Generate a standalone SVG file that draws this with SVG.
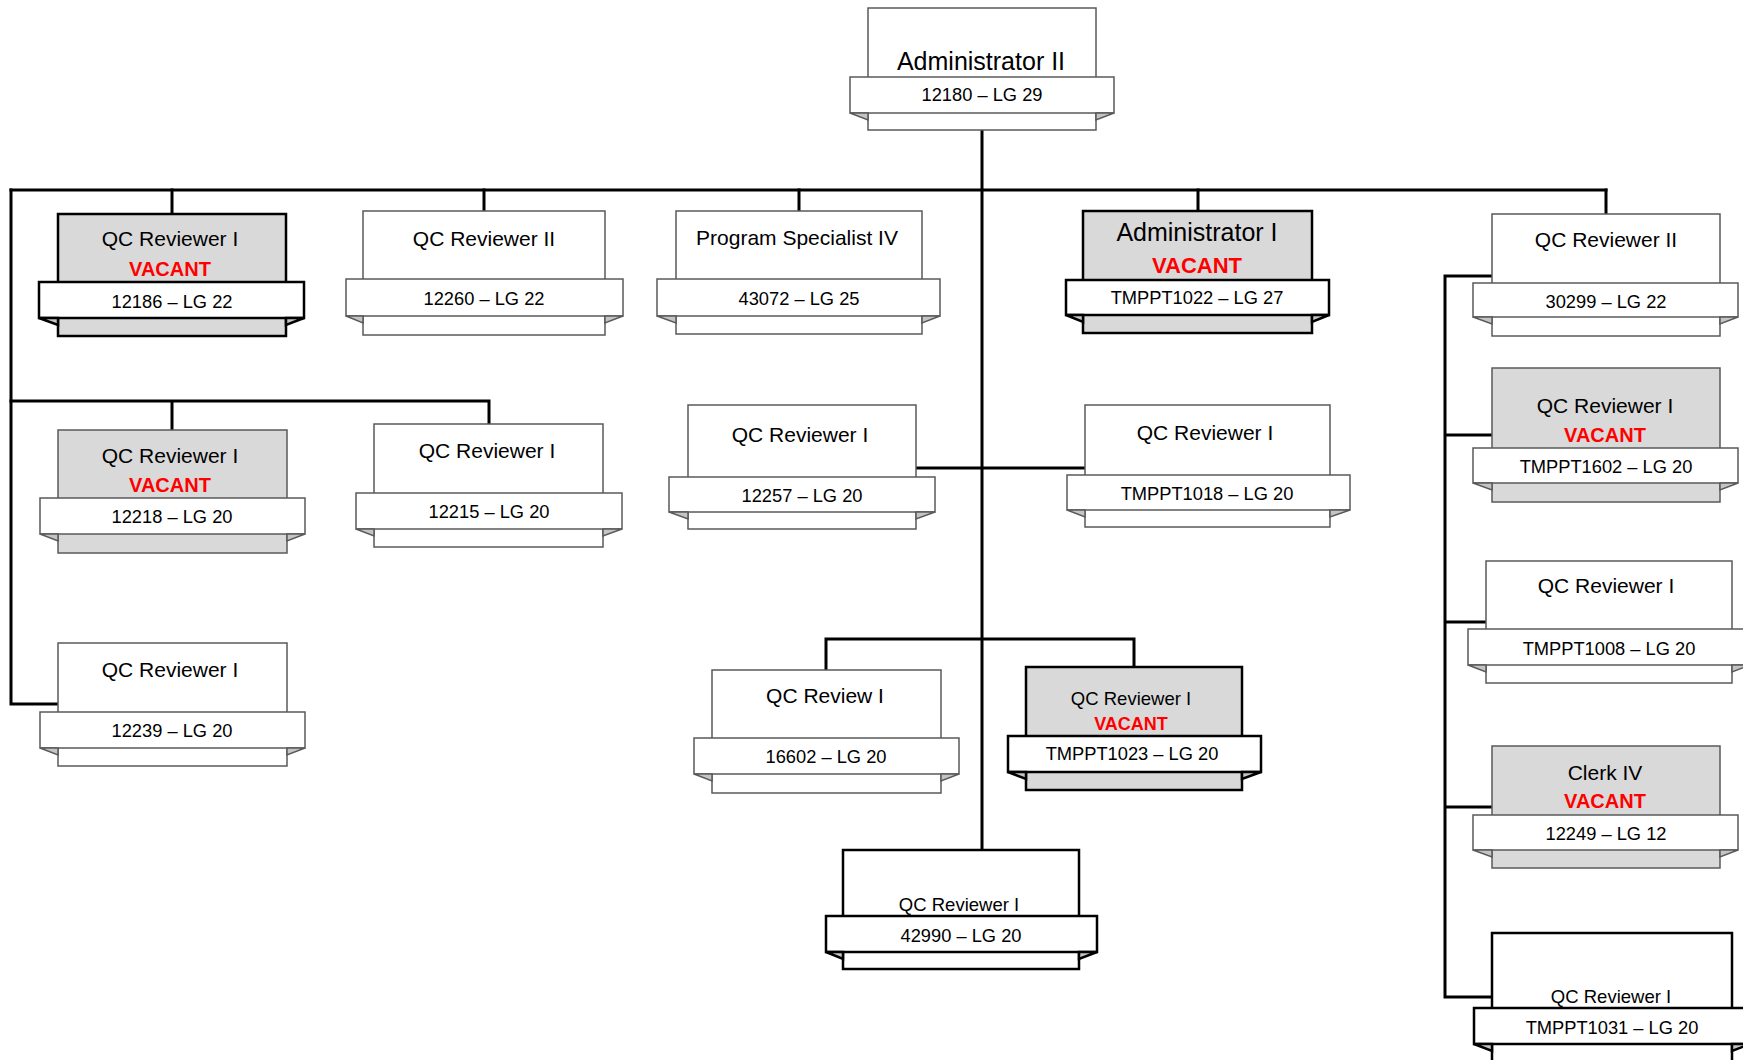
<svg xmlns="http://www.w3.org/2000/svg" width="1743" height="1060" viewBox="0 0 1743 1060">
<style>
  .bg { fill: #ffffff; }
  .conn { stroke: #000; stroke-width: 3; fill: none; stroke-linecap: square; }
  .thin .box, .thin .ban, .thin .tri { stroke: #5a5a5a; stroke-width: 1.5; }
  .thick .box, .thick .ban, .thick .tri { stroke: #000; stroke-width: 2.5; }
  .box { fill: #ffffff; }
  .vac .box { fill: #d9d9d9; }
  .ban { fill: #ffffff; }
  .tri { fill: #c4c4c4; stroke-linejoin: miter; }
  text { font-family: "Liberation Sans", Arial, sans-serif; fill: #000; text-anchor: middle; }
  .t { font-size: 21px; }
  .tl { font-size: 25px; }
  .ts { font-size: 18.5px; }
  .v { font-size: 20px; font-weight: bold; fill: #ff0000; }
  .vl { font-size: 22px; font-weight: bold; fill: #ff0000; }
  .vs { font-size: 18px; font-weight: bold; fill: #ff0000; }
  .b { font-size: 18.3px; }
</style>
<rect class="bg" x="0" y="0" width="1743" height="1060"/>

<g id="connectors">
  <path class="conn" d="M982,130 V850"/>
  <path class="conn" d="M11,190 H1606"/>
  <path class="conn" d="M172,190 V214 M484,190 V211 M799,190 V211 M1198,190 V211 M1606,190 V214"/>
  <path class="conn" d="M11,190 V704 H58"/>
  <path class="conn" d="M11,401 H489 V424 M172,401 V430"/>
  <path class="conn" d="M916,468 H1085"/>
  <path class="conn" d="M826,670 V639 H1134 V667"/>
  <path class="conn" d="M1492,276 H1445 V997 H1492 M1445,435 H1492 M1445,622 H1486 M1445,807 H1492"/>
</g>

<g id="n-admin2" class="thin">
  <rect class="box" x="868" y="8" width="228" height="122"/>
  <rect class="ban" x="850" y="77" width="264" height="36"/>
  <polygon class="tri" points="850,113 868,113 868,120"/>
  <polygon class="tri" points="1114,113 1096,113 1096,120"/>
  <text class="tl" x="981" y="70">Administrator II</text>
  <text class="b" x="982" y="101">12180 – LG 29</text>
</g>

<g id="n-12186" class="thick vac">
  <rect class="box" x="58" y="214" width="228" height="122"/>
  <rect class="ban" x="39" y="282" width="265" height="36"/>
  <polygon class="tri" points="39,318 58,318 58,325"/>
  <polygon class="tri" points="304,318 286,318 286,325"/>
  <text class="t" x="170" y="246">QC Reviewer I</text>
  <text class="v" x="170" y="276">VACANT</text>
  <text class="b" x="172" y="308">12186 – LG 22</text>
</g>

<g id="n-12260" class="thin">
  <rect class="box" x="363" y="211" width="242" height="124"/>
  <rect class="ban" x="346" y="279" width="277" height="37"/>
  <polygon class="tri" points="346,316 363,316 363,323"/>
  <polygon class="tri" points="623,316 605,316 605,323"/>
  <text class="t" x="484" y="246">QC Reviewer II</text>
  <text class="b" x="484" y="305">12260 – LG 22</text>
</g>

<g id="n-43072" class="thin">
  <rect class="box" x="676" y="211" width="246" height="123"/>
  <rect class="ban" x="657" y="279" width="283" height="37"/>
  <polygon class="tri" points="657,316 676,316 676,323"/>
  <polygon class="tri" points="940,316 922,316 922,323"/>
  <text class="t" x="797" y="245">Program Specialist IV</text>
  <text class="b" x="799" y="305">43072 – LG 25</text>
</g>

<g id="n-admin1" class="thick vac">
  <rect class="box" x="1083" y="211" width="229" height="122"/>
  <rect class="ban" x="1066" y="280" width="263" height="35"/>
  <polygon class="tri" points="1066,315 1083,315 1083,322"/>
  <polygon class="tri" points="1329,315 1312,315 1312,322"/>
  <text class="tl" x="1197" y="241">Administrator I</text>
  <text class="vl" x="1197" y="273">VACANT</text>
  <text class="b" x="1197" y="304">TMPPT1022 – LG 27</text>
</g>

<g id="n-30299" class="thin">
  <rect class="box" x="1492" y="214" width="228" height="122"/>
  <rect class="ban" x="1473" y="283" width="265" height="34"/>
  <polygon class="tri" points="1473,317 1492,317 1492,324"/>
  <polygon class="tri" points="1738,317 1720,317 1720,324"/>
  <text class="t" x="1606" y="247">QC Reviewer II</text>
  <text class="b" x="1606" y="308">30299 – LG 22</text>
</g>

<g id="n-12218" class="thin vac">
  <rect class="box" x="58" y="430" width="229" height="123"/>
  <rect class="ban" x="40" y="498" width="265" height="36"/>
  <polygon class="tri" points="40,534 58,534 58,541"/>
  <polygon class="tri" points="305,534 287,534 287,541"/>
  <text class="t" x="170" y="463">QC Reviewer I</text>
  <text class="v" x="170" y="492">VACANT</text>
  <text class="b" x="172" y="523">12218 – LG 20</text>
</g>

<g id="n-12215" class="thin">
  <rect class="box" x="374" y="424" width="229" height="123"/>
  <rect class="ban" x="356" y="493" width="266" height="36"/>
  <polygon class="tri" points="356,529 374,529 374,536"/>
  <polygon class="tri" points="622,529 603,529 603,536"/>
  <text class="t" x="487" y="458">QC Reviewer I</text>
  <text class="b" x="489" y="518">12215 – LG 20</text>
</g>

<g id="n-12239" class="thin">
  <rect class="box" x="58" y="643" width="229" height="123"/>
  <rect class="ban" x="40" y="712" width="265" height="36"/>
  <polygon class="tri" points="40,748 58,748 58,755"/>
  <polygon class="tri" points="305,748 287,748 287,755"/>
  <text class="t" x="170" y="677">QC Reviewer I</text>
  <text class="b" x="172" y="737">12239 – LG 20</text>
</g>

<g id="n-12257" class="thin">
  <rect class="box" x="688" y="405" width="228" height="124"/>
  <rect class="ban" x="669" y="477" width="266" height="35"/>
  <polygon class="tri" points="669,512 688,512 688,519"/>
  <polygon class="tri" points="935,512 916,512 916,519"/>
  <text class="t" x="800" y="442">QC Reviewer I</text>
  <text class="b" x="802" y="502">12257 – LG 20</text>
</g>

<g id="n-tmppt1018" class="thin">
  <rect class="box" x="1085" y="405" width="245" height="122"/>
  <rect class="ban" x="1067" y="475" width="283" height="35"/>
  <polygon class="tri" points="1067,510 1085,510 1085,517"/>
  <polygon class="tri" points="1350,510 1330,510 1330,517"/>
  <text class="t" x="1205" y="440">QC Reviewer I</text>
  <text class="b" x="1207" y="500">TMPPT1018 – LG 20</text>
</g>

<g id="n-16602" class="thin">
  <rect class="box" x="712" y="670" width="229" height="123"/>
  <rect class="ban" x="694" y="738" width="265" height="36"/>
  <polygon class="tri" points="694,774 712,774 712,781"/>
  <polygon class="tri" points="959,774 941,774 941,781"/>
  <text class="t" x="825" y="703">QC Review I</text>
  <text class="b" x="826" y="763">16602 – LG 20</text>
</g>

<g id="n-tmppt1023" class="thick vac">
  <rect class="box" x="1026" y="667" width="216" height="123"/>
  <rect class="ban" x="1008" y="736" width="253" height="36"/>
  <polygon class="tri" points="1008,772 1026,772 1026,779"/>
  <polygon class="tri" points="1261,772 1242,772 1242,779"/>
  <text class="ts" x="1131" y="705">QC Reviewer I</text>
  <text class="vs" x="1131" y="730">VACANT</text>
  <text class="b" x="1132" y="760">TMPPT1023 – LG 20</text>
</g>

<g id="n-42990" class="thick">
  <rect class="box" x="843" y="850" width="236" height="119"/>
  <rect class="ban" x="826" y="916" width="271" height="36"/>
  <polygon class="tri" points="826,952 843,952 843,959"/>
  <polygon class="tri" points="1097,952 1079,952 1079,959"/>
  <text class="ts" x="959" y="911">QC Reviewer I</text>
  <text class="b" x="961" y="942">42990 – LG 20</text>
</g>

<g id="n-tmppt1602" class="thin vac">
  <rect class="box" x="1492" y="368" width="228" height="134"/>
  <rect class="ban" x="1473" y="448" width="265" height="35"/>
  <polygon class="tri" points="1473,483 1492,483 1492,490"/>
  <polygon class="tri" points="1738,483 1720,483 1720,490"/>
  <text class="t" x="1605" y="413">QC Reviewer I</text>
  <text class="v" x="1605" y="442">VACANT</text>
  <text class="b" x="1606" y="473">TMPPT1602 – LG 20</text>
</g>

<g id="n-tmppt1008" class="thin">
  <rect class="box" x="1486" y="561" width="246" height="122"/>
  <rect class="ban" x="1468" y="629" width="282" height="36"/>
  <polygon class="tri" points="1468,665 1486,665 1486,672"/>
  <polygon class="tri" points="1750,665 1732,665 1732,672"/>
  <text class="t" x="1606" y="593">QC Reviewer I</text>
  <text class="b" x="1609" y="655">TMPPT1008 – LG 20</text>
</g>

<g id="n-clerk4" class="thin vac">
  <rect class="box" x="1492" y="746" width="228" height="122"/>
  <rect class="ban" x="1473" y="815" width="265" height="35"/>
  <polygon class="tri" points="1473,850 1492,850 1492,857"/>
  <polygon class="tri" points="1738,850 1720,850 1720,857"/>
  <text class="t" x="1605" y="780">Clerk IV</text>
  <text class="v" x="1605" y="808">VACANT</text>
  <text class="b" x="1606" y="840">12249 – LG 12</text>
</g>

<g id="n-tmppt1031" class="thick">
  <rect class="box" x="1492" y="933" width="240" height="135"/>
  <rect class="ban" x="1474" y="1008" width="276" height="36"/>
  <polygon class="tri" points="1474,1044 1492,1044 1492,1051"/>
  <polygon class="tri" points="1750,1044 1732,1044 1732,1051"/>
  <text class="ts" x="1611" y="1003">QC Reviewer I</text>
  <text class="b" x="1612" y="1034">TMPPT1031 – LG 20</text>
</g>
</svg>
